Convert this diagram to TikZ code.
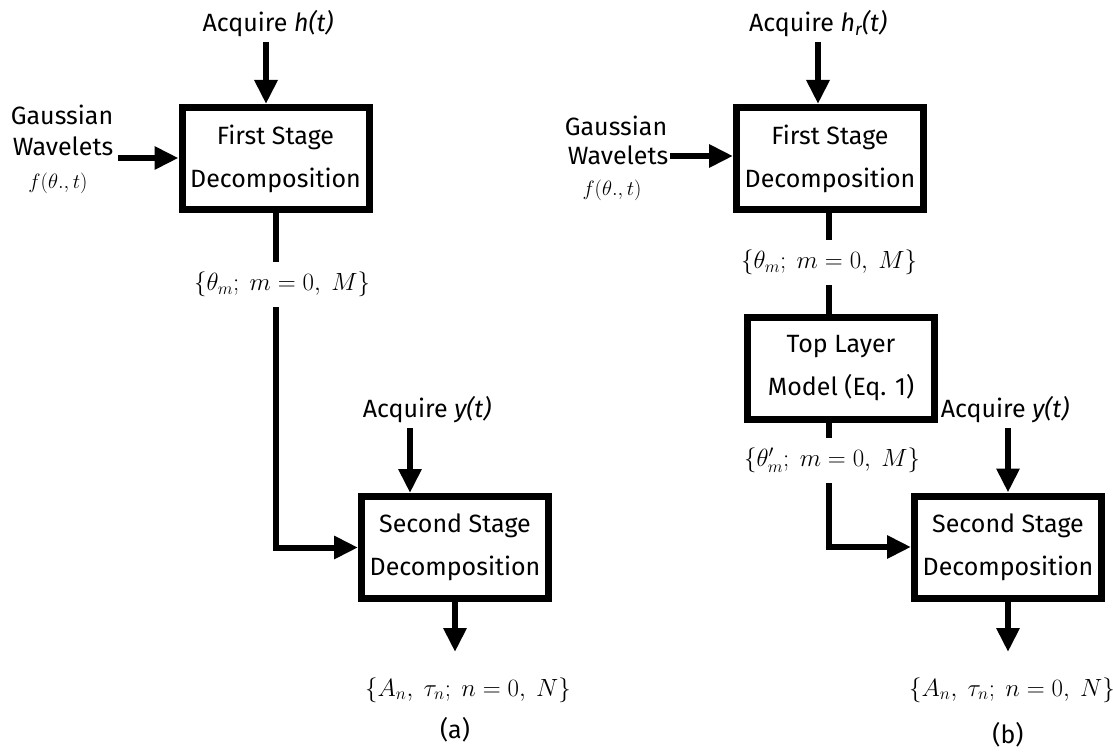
\documentclass[tikz,border=0pt]{standalone}
\usepackage{fontspec}
\setmainfont{Fira Sans}
\usetikzlibrary{arrows.meta}
\tikzset{
  box/.style={draw, line width=7pt, minimum width=187pt, minimum height=102pt, align=center,
    font=\fontsize{25}{43}\selectfont, inner sep=0pt},
  lbl/.style={font=\fontsize{25}{30}\selectfont, inner sep=0pt},
  mlbl/.style={font=\fontsize{23.5}{26}\selectfont, inner sep=0pt, minimum height=45pt},
  flbl/.style={font=\fontsize{21}{24}\selectfont, inner sep=0pt},
  conn/.style={line width=6pt},
  arr/.style={line width=6pt, -{Triangle[length=24pt,width=22pt]}},
}
\begin{document}
\begin{tikzpicture}[x=1pt,y=-1pt]
\useasboundingbox (0,0) rectangle (1113,754);
% ---------- panel (a)
\node[lbl] (acqa) at (268,24) {Acquire \textit{h(t)}};
\node[box] (b1a) at (275.5,158.5) {First Stage\\Decomposition};
\node[lbl] (gausa) at (62,115) {Gaussian};
\node[lbl] (wava) at (63,146) {Wavelets};
\node[flbl] (fa) at (58,183) {$f(\theta.,t)$};
\coordinate (ga) at (118,158);
\coordinate (ta) at (266,42);
\draw[arr] (ta) -- (ta |- b1a.north);
\draw[arr] (ga) -- (ga -| b1a.west);
\node[mlbl] (tha) at (282,284.5) {$\{\theta_m;\ m = 0,\ M\}$};
\node[box] (b2a) at (455,547.5) {Second Stage\\Decomposition};
\node[lbl] (acqya) at (427,410) {Acquire \textit{y(t)}};
\coordinate (tya) at (410,428);
\draw[arr] (tya) -- (tya |- b2a.north);
\draw[conn] (b1a.south) -- (b1a.south |- tha.north);
\draw[arr] (b1a.south |- tha.south) |- (b2a.west);
\coordinate (oa) at (455,652);
\draw[arr] (b2a.south) -- (oa);
\node[mlbl] (Aa) at (468,690) {$\{A_n,\ \tau_n;\ n = 0,\ N\}$};
\node[lbl] (capa) at (455,730) {(a)};
% ---------- panel (b)
\node[lbl] (acqb) at (818,24) {Acquire \textit{h\textsubscript{r}(t)}};
\node[box] (b1b) at (830,158.5) {First Stage\\Decomposition};
\node[lbl] (gausb) at (616,126) {Gaussian};
\node[lbl] (wavb) at (618,155) {Wavelets};
\node[flbl] (fb) at (612,190) {$f(\theta.,t)$};
\coordinate (gb) at (670,156);
\coordinate (tb) at (818,42);
\draw[arr] (tb) -- (tb |- b1b.north);
\draw[arr] (gb) -- (gb -| b1b.west);
\node[mlbl] (thb) at (829,262.5) {$\{\theta_m;\ m = 0,\ M\}$};
\node[box] (tlb) at (841,368) {Top Layer\\Model (Eq. 1)};
\node[mlbl] (thb2) at (832,460.5) {$\{\theta_m';\ m = 0,\ M\}$};
\coordinate (xb) at (829,0);
\draw[conn] (xb |- b1b.south) -- (xb |- thb.north);
\draw[conn] (xb |- thb.south) -- (xb |- tlb.north);
\draw[conn] (xb |- tlb.south) -- (xb |- thb2.north);
\node[box] (b2b) at (1008,547) {Second Stage\\Decomposition};
\draw[arr] (xb |- thb2.south) |- (b2b.west);
\node[lbl] (acqyb) at (1005,410) {Acquire \textit{y(t)}};
\coordinate (tyb) at (1008,428);
\draw[arr] (tyb) -- (tyb |- b2b.north);
\coordinate (ob) at (1008,652);
\draw[arr] (b2b.south) -- (ob);
\node[mlbl] (Ab) at (1012,690) {$\{A_n,\ \tau_n;\ n = 0,\ N\}$};
\node[lbl] (capb) at (1008,735) {(b)};
\end{tikzpicture}
\end{document}
